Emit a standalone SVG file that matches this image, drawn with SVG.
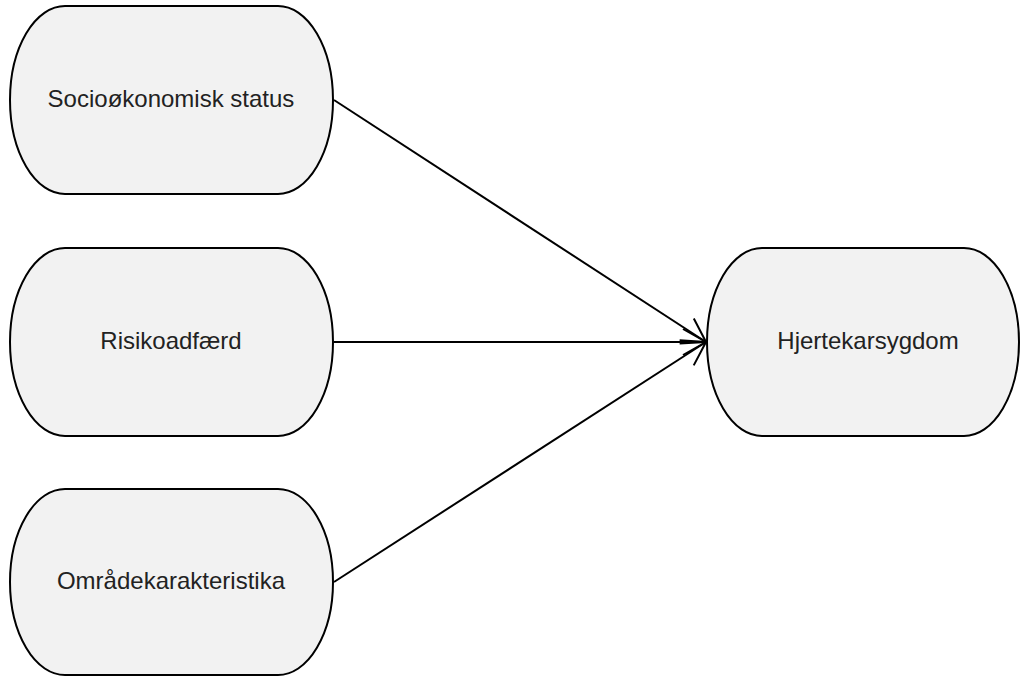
<svg xmlns="http://www.w3.org/2000/svg" width="1020" height="677" viewBox="0 0 1020 677">
<style>
.n{fill:#f2f2f2;stroke:#000;stroke-width:2}
.t{font-family:"Liberation Sans",Arial,sans-serif;font-size:24px;fill:#222;text-anchor:middle;dominant-baseline:central}
.c{stroke:#000;stroke-width:2;fill:none;marker-end:url(#a)}
</style>
<defs>
<marker id="a" markerUnits="userSpaceOnUse" markerWidth="30" markerHeight="30" refX="26" refY="14" orient="auto" viewBox="0 0 30 28">
<path d="M3,1 L26,14 L3,27" fill="none" stroke="#000" stroke-width="2"/>
</marker>
</defs>
<rect width="1020" height="677" fill="#fff"/>
<g id="connectors">
<line class="c" x1="334" y1="100" x2="706" y2="342"/>
<line class="c" x1="334" y1="342" x2="706" y2="342"/>
<line class="c" x1="334" y1="582" x2="706" y2="342"/>
</g>
<g id="n1"><rect class="n" x="10" y="6" width="323" height="188" rx="55" ry="94"/><text class="t" x="171" y="98">Socioøkonomisk status</text></g>
<g id="n2"><rect class="n" x="10" y="248" width="323" height="188" rx="55" ry="94"/><text class="t" x="171" y="340">Risikoadfærd</text></g>
<g id="n3"><rect class="n" x="10" y="489" width="323" height="186" rx="55" ry="93"/><text class="t" x="171" y="580">Områdekarakteristika</text></g>
<g id="n4"><rect class="n" x="707" y="248" width="312" height="188" rx="55" ry="94"/><text class="t" x="868" y="340">Hjertekarsygdom</text></g>
</svg>
